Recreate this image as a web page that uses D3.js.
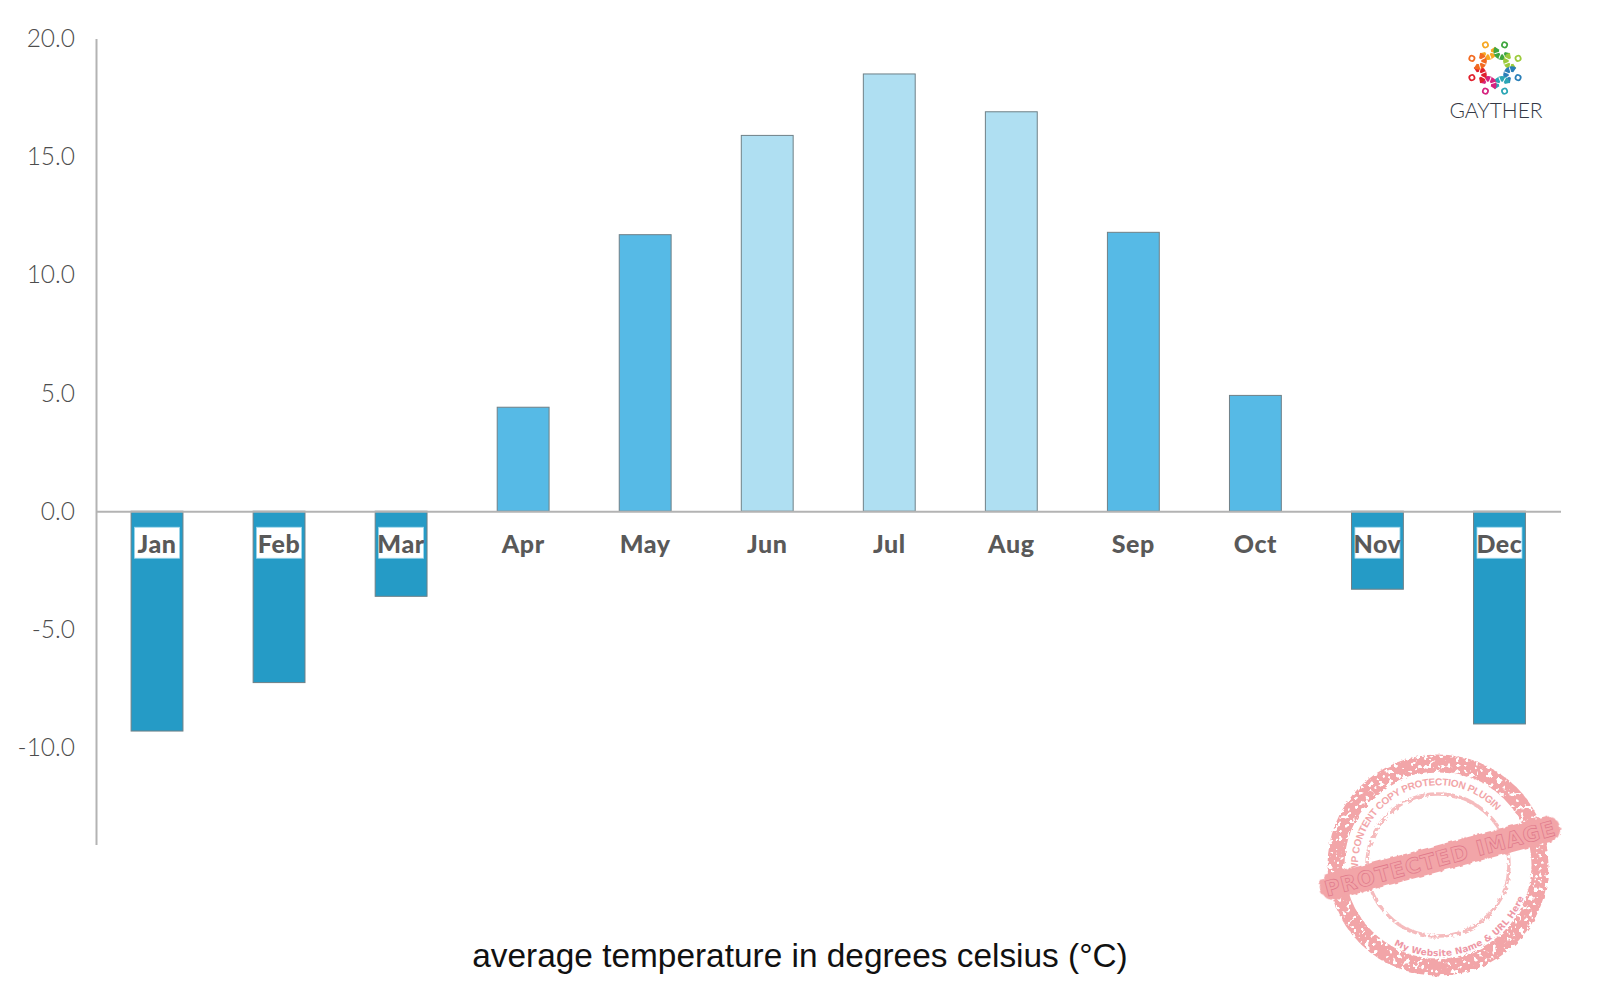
<!DOCTYPE html>
<html><head><meta charset="utf-8">
<script src="https://cdn.jsdelivr.net/npm/d3@7"></script>
<style>html,body{margin:0;padding:0;background:#fff}svg{display:block}</style>
</head><body><svg id="c" width="1600" height="1000"></svg>
<script>
const months = ["Jan","Feb","Mar","Apr","May","Jun","Jul","Aug","Sep","Oct","Nov","Dec"];
const temps = [-9.3,-7.25,-3.6,4.4,11.7,15.9,18.5,16.9,11.8,4.9,-3.3,-9.0];
const yTicks = [20,15,10,5,0,-5,-10];
const logoColours = ["#f7a823","#3fa63f","#9ccb3b","#2a7fb8","#2ba6b5","#d6237f","#e0202e","#f26a21"];
const title = "average temperature in degrees celsius (°C)";
const brand = "GAYTHER";
const stampMain = "PROTECTED IMAGE";
const stampTop = "WP CONTENT COPY PROTECTION PLUGIN";
const stampBottom = "My Website Name & URL Here";

const svg = d3.select("#c");
const sans = "Lato, 'Open Sans', sans-serif";
const x = d3.scaleBand().domain(months).range([96,1560.5]).paddingInner(0.575).paddingOuter(0.2875);
const y = d3.scaleLinear().domain([20,-14.1]).range([38.5,844.5]);
const colour = d3.scaleThreshold().domain([0,15]).range(["#259bc6","#56bae6","#afdff2"]);

// bars
svg.append("g").selectAll("rect").data(months).join("rect")
  .attr("x",d=>x(d)).attr("width",x.bandwidth())
  .attr("y",(d,i)=>y(Math.max(0,temps[i])))
  .attr("height",(d,i)=>Math.abs(y(temps[i])-y(0)))
  .attr("fill",(d,i)=>colour(temps[i]))
  .attr("stroke","#6f8087").attr("stroke-width",1);

// y axis
const yAxis = svg.append("g").attr("transform","translate(96,0)")
  .call(d3.axisLeft(y).tickValues(yTicks).tickFormat(d=>d3.format(".1f")(d).replace("\u2212","-")).tickSize(0).tickPadding(21));
yAxis.select(".domain").attr("stroke","#b3b3b3").attr("stroke-width",2);
yAxis.selectAll("text").attr("font-family",sans).attr("font-weight",300).attr("font-size",24.5).attr("fill","#4d4d4d")
  .attr("dy",null).attr("dominant-baseline","central").attr("transform","translate(0,-1.5)");

// x axis at zero
const xAxis = svg.append("g").attr("transform",`translate(0,${y(0)})`)
  .call(d3.axisBottom(x).tickSize(0).tickPadding(0));
xAxis.select(".domain").attr("stroke","#b3b3b3").attr("stroke-width",2);
xAxis.selectAll(".tick text").attr("font-size",null).text(null);
const labels = xAxis.selectAll(".tick");
labels.filter(d=>temps[months.indexOf(d)]<0).append("rect")
  .attr("x",-22.5).attr("y",16).attr("width",45).attr("height",31)
  .attr("fill","#fff").attr("stroke","#9fd6ea").attr("stroke-width",0.8);
labels.append("text").text(d=>d).attr("y",32).attr("dy",null)
  .attr("dominant-baseline","central").attr("text-anchor","middle").attr("letter-spacing",0.6)
  .attr("font-family",sans).attr("font-weight",900).attr("font-size",25).attr("fill","#595959");

// title
svg.append("text").text(title).attr("x",800).attr("y",955)
  .attr("text-anchor","middle").attr("dominant-baseline","central")
  .attr("font-family","'Liberation Sans',Arial,sans-serif").attr("font-size",33.4).attr("fill","#111");

// logo
const logo = svg.append("g").attr("transform","translate(1495,68)");
const arc = d3.arc().innerRadius(3).outerRadius(8.5).startAngle(-1.75).endAngle(1.75);
const piece = logo.selectAll("g").data(logoColours).join("g")
  .attr("transform",(d,i)=>`rotate(${-22.5+i*45})`).attr("fill",d=>d).attr("stroke",d=>d);
piece.append("path").attr("d",arc()).attr("transform","translate(0,-18) rotate(180)").attr("stroke","none");
piece.append("path").attr("d","M0,-18 L0,-10 M0,-18 L-6,-13 M0,-18 L6,-13").attr("stroke","#fff").attr("stroke-width",1).attr("fill","none");
piece.append("circle").attr("cy",-25).attr("r",2.6).attr("fill","none").attr("stroke-width",1.7);
svg.append("text").text(brand).attr("x",1496).attr("y",109)
  .attr("text-anchor","middle").attr("dominant-baseline","central")
  .attr("font-family",sans).attr("font-weight",300).attr("font-size",21).attr("fill","#333844");

// stamp
const defs = svg.append("defs");
const f = defs.append("filter").attr("id","rough").attr("x","-10%").attr("y","-10%").attr("width","120%").attr("height","120%");
f.append("feTurbulence").attr("type","fractalNoise").attr("baseFrequency",0.22).attr("numOctaves",2).attr("seed",7).attr("result","n");
f.append("feDisplacementMap").attr("in","SourceGraphic").attr("in2","n").attr("scale",5).attr("result","d");
f.append("feColorMatrix").attr("in","n").attr("type","matrix")
  .attr("values","0 0 0 0 0  0 0 0 0 0  0 0 0 0 0  0 0 0 -14 9.2").attr("result","m");
f.append("feComposite").attr("in","d").attr("in2","m").attr("operator","in");
const fb = defs.append("filter").attr("id","edge").attr("x","-5%").attr("y","-20%").attr("width","110%").attr("height","140%");
fb.append("feTurbulence").attr("type","fractalNoise").attr("baseFrequency",0.2).attr("numOctaves",2).attr("seed",3).attr("result","n");
fb.append("feDisplacementMap").attr("in","SourceGraphic").attr("in2","n").attr("scale",4);

const stamp = svg.append("g").attr("transform","translate(1438,865)");
const pink = "#f2a5a8";
stamp.append("circle").attr("r",102).attr("fill","none").attr("stroke",pink).attr("stroke-width",17).attr("filter","url(#rough)");
stamp.append("circle").attr("r",71).attr("fill","none").attr("stroke",pink).attr("stroke-width",3.5).attr("opacity",0.75).attr("filter","url(#rough)");
defs.append("path").attr("id","topArc").attr("d","M-79.7,7 A80,80 0 0 1 66,-45");
defs.append("path").attr("id","botArc").attr("d","M-44,80 A92,92 0 0 0 86,32");
stamp.append("text").attr("font-family","'Liberation Sans',sans-serif").attr("font-weight",700).attr("font-size",10)
  .attr("fill",pink)
  .append("textPath").attr("href","#topArc").attr("textLength",198).attr("lengthAdjust","spacing").text(stampTop);
stamp.append("text").attr("font-family","'DejaVu Sans',sans-serif").attr("font-weight",700).attr("font-size",9)
  .attr("fill","#ee98a6")
  .append("textPath").attr("href","#botArc").attr("textLength",156).attr("lengthAdjust","spacing").text(stampBottom);
const band = stamp.append("g").attr("transform","translate(2,-7) rotate(-15)");
band.append("rect").attr("x",-124).attr("y",-13).attr("width",248).attr("height",26).attr("rx",13)
  .attr("fill",pink).attr("filter","url(#edge)");
band.append("text").text(stampMain).attr("text-anchor","middle").attr("dominant-baseline","central").attr("y",1)
  .attr("font-family","'DejaVu Sans',sans-serif").attr("font-weight",700).attr("font-size",21).attr("letter-spacing",1)
  .attr("fill","none").attr("stroke","#e0788a").attr("stroke-width",0.7);
</script></body></html>
